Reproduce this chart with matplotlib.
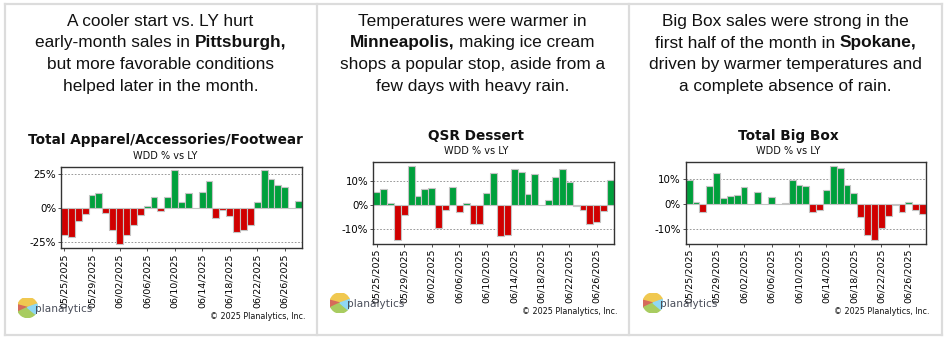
import matplotlib
matplotlib.use('Agg')
import matplotlib.pyplot as plt
import matplotlib.transforms as mtransforms
from matplotlib.patches import Wedge
from matplotlib.lines import Line2D
import pandas as pd

# ---------------- data ----------------
dates = pd.date_range('2025-05-25', periods=35)
date_labels = [d.strftime('%m/%d/%Y') for d in dates]

apparel = [-20, -21.8, -9.4, -4.5, 9.9, 10.9, -3.7, -16.6, -27, -20.5,
           -12.6, -5, 1.2, 7.7, -2, 7.7, 28, 4.7, 11, 0,
           12, 19.8, -7.2, -1.5, -6.4, -18, -16.6, -12.6, 4.7, 28,
           21.3, 17, 15.6, 0, 5.4]
dessert = [5.4, 6.6, 1.0, -14.8, -4.2, 16.6, 3.8, 6.6, 7.0, -9.9,
           -2.1, 7.5, -3.0, 1.0, -7.9, -7.9, 4.9, 13.7, -13.1, -12.7,
           15.4, 14.1, 4.6, 13.2, 0, 2.2, 12.0, 15.4, 9.6, -0.3,
           -2.1, -8.2, -7.0, -2.5, 10.4]
bigbox = [9.4, 0.9, -3.2, 7.2, 12.5, 2.5, 3.3, 3.7, 6.8, 0,
          4.8, 0, 2.9, 0, 0.5, 9.5, 7.5, 7.2, -3.2, -2.3,
          5.6, 15.2, 14.2, 7.5, 4.5, -5.4, -12.3, -14.3, -9.7, -4.8,
          -0.6, -3.2, 0.6, -2.4, -4.1]

titles = ['Total Apparel/Accessories/Footwear', 'QSR Dessert', 'Total Big Box']
subtitle = 'WDD % vs LY'
yticks_list = [[-25, 0, 25], [-10, 0, 10], [-10, 0, 10]]
ylims = [(-30, 30.7), (-16.5, 18.3), (-16, 16.9)]
series = [apparel, dessert, bigbox]

headers = [
    [[('A cooler start vs. LY hurt', False)],
     [('early-month sales in', False), ('Pittsburgh,', True)],
     [('but more favorable conditions', False)],
     [('helped later in the month.', False)]],
    [[('Temperatures were warmer in', False)],
     [('Minneapolis,', True), ('making ice cream', False)],
     [('shops a popular stop, aside from a', False)],
     [('few days with heavy rain.', False)]],
    [[('Big Box sales were strong in the', False)],
     [('first half of the month in', False), ('Spokane,', True)],
     [('driven by warmer temperatures and', False)],
     [('a complete absence of rain.', False)]],
]

# ---------------- layout (pixels) ----------------
W, H = 944, 340
fig = plt.figure(figsize=(W / 100, H / 100), dpi=100)
fig.patch.set_facecolor('white')


def fx(x):
    return x / W


def fy(y):
    return 1 - y / H


RED = '#d00000'
GREEN = '#00a03c'
EDGE = '#c4c4c4'
BORDER = '#dcdcdc'

# panel borders
bx = [4.5, 316.7, 628.5, 942]
for x in bx:
    fig.add_artist(Line2D([fx(x), fx(x)], [fy(3.7), fy(335)], color=BORDER, lw=1.6))
for y in [3.7, 335]:
    fig.add_artist(Line2D([fx(bx[0]), fx(bx[-1])], [fy(y), fy(y)], color=BORDER, lw=1.6))

# header text with mixed bold
renderer = fig.canvas.get_renderer()
HFS = 12.4
HFAM = 'Liberation Sans'


def text_w(s, bold):
    t = fig.text(0, 0, s, fontsize=HFS, family=HFAM, fontweight='bold' if bold else 'normal')
    w = t.get_window_extent(renderer).width
    t.remove()
    return w


space_w = text_w('x x', False) - text_w('xx', False)
centers = [160.5, 472.5, 785.5]
line_y = [21.5, 43, 64.5, 86]
for pc, lines in zip(centers, headers):
    for ly, parts in zip(line_y, lines):
        widths = [text_w(s, b) for s, b in parts]
        total = sum(widths) + space_w * (len(parts) - 1)
        x = pc - total / 2
        for (s, b), w in zip(parts, widths):
            fig.text(fx(x), fy(ly), s, fontsize=HFS, family=HFAM,
                     fontweight='bold' if b else 'normal', ha='left', va='center',
                     color='#111111')
            x += w + space_w

# chart positions
axes_px = [(61, 166.5, 302, 248.3), (373.3, 161.7, 614, 244), (685.7, 161.7, 926, 244)]
title_pos = [(165, 140, 156.5), (475.8, 135.7, 151), (788, 135.7, 151)]
copy_pos = [(306, 316.5), (617.5, 311.7), (930, 311.7)]
logo_pos = [(27.5, 307.5, 35), (340, 303, 347), (653, 303, 660)]

label_shift = mtransforms.ScaledTranslation(2.5 / 100, 0, fig.dpi_scale_trans)

for i in range(3):
    l, t, r, b = axes_px[i]
    ax = fig.add_axes([fx(l), fy(b), (r - l) / W, (b - t) / H])
    vals = series[i]
    xs = list(range(len(vals)))
    cols = [GREEN if v >= 0 else RED for v in vals]
    ax.bar(xs, vals, width=1.0, color=cols, edgecolor=EDGE, linewidth=0.8, zorder=2)
    ax.set_xlim(-0.5, len(vals) - 0.5)
    ax.set_ylim(*ylims[i])
    yt = yticks_list[i]
    ax.set_yticks(yt)
    ax.set_yticklabels([f'{v}%' for v in yt], fontsize=7.4, family='DejaVu Sans')
    for v in yt:
        if v != 0:
            ax.axhline(v, color='#888888', lw=0.6, ls=(0, (2, 2)), zorder=1)
    ax.set_xticks(xs[::4])
    ax.set_xticklabels(date_labels[::4], rotation=90, fontsize=6.8, family='DejaVu Sans')
    for lab in ax.get_xticklabels():
        lab.set_transform(lab.get_transform() + label_shift)
    ax.tick_params(axis='both', length=2, width=0.6, pad=1.5, color='#333333')
    for sp in ax.spines.values():
        sp.set_color('#333333')
        sp.set_linewidth(1.0)

    tx, ty, sy = title_pos[i]
    fig.text(fx(tx), fy(ty), titles[i], fontsize=9.8, fontweight='bold',
             family='DejaVu Sans', ha='center', va='center', color='#111111')
    fig.text(fx(tx), fy(sy), subtitle, fontsize=7, family='DejaVu Sans',
             ha='center', va='center', color='#111111')

    cx, cy = copy_pos[i]
    fig.text(fx(cx), fy(cy), '\u00a9 2025 Planalytics, Inc.', fontsize=5.8,
             family='DejaVu Sans', ha='right', va='center', color='#111111')

    # logo
    lx, lyy, txx = logo_pos[i]
    rad = 10
    lax = fig.add_axes([fx(lx - rad), fy(lyy + rad), 2 * rad / W, 2 * rad / H])
    lax.set_xlim(-1, 1)
    lax.set_ylim(-1, 1)
    lax.axis('off')
    lax.add_patch(Wedge((0, 0), 1, 20, 165, color='#f0c850'))
    lax.add_patch(Wedge((0, 0), 1, 165, 205, color='#d66a5a'))
    lax.add_patch(Wedge((0, 0), 1, 205, 320, color='#a8cc60'))
    lax.add_patch(Wedge((0, 0), 1, 320, 380, color='#8fd8f5'))
    fig.text(fx(txx), fy(lyy + 1), 'planalytics', fontsize=7.6, family='DejaVu Sans',
             ha='left', va='center', color='#4a4e5a')

fig.savefig('out.png', dpi=100)
